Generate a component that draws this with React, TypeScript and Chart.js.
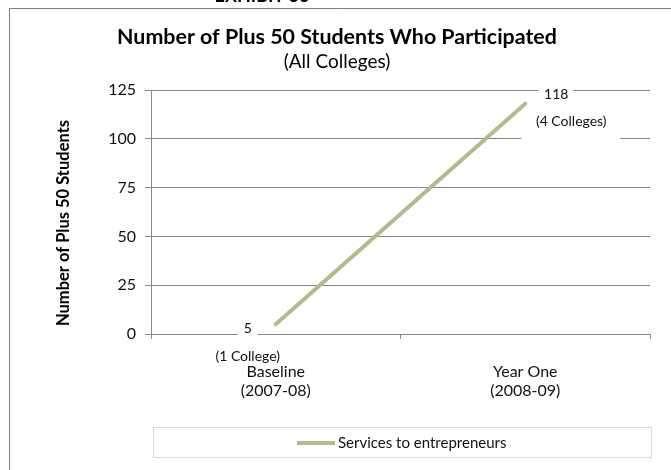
import React, { useEffect, useRef } from "react";
import { Chart, registerables } from "chart.js";

Chart.register(...registerables);

const categoryNames = ["Baseline", "Year One"];
const categoryYears = ["(2007-08)", "(2008-09)"];
const values = [5, 118];
const collegeLabels = ["(1 College)", "(4 Colleges)"];
const seriesName = "Services to entrepreneurs";
const yMax = 125;
const yStep = 25;
const titleText = "Number of Plus 50 Students Who Participated";
const subtitleText = "(All Colleges)";
const exhibitText = "EXHIBIT 33";
const yAxisTitle = "Number of Plus 50 Students";

const FONT = "Lato, 'Open Sans', sans-serif";
const LINE_COLOR = "#b3bb8c";
const AXIS_COLOR = "#868686";

export default function App() {
  const ref = useRef<HTMLCanvasElement | null>(null);

  useEffect(() => {
    const canvas = ref.current;
    if (!canvas) return;

    const overlay = {
      id: "overlay",
      beforeDatasetsDraw(chart: any) {
        const ctx = chart.ctx;
        const meta = chart.getDatasetMeta(0);
        const p0 = meta.data[0];
        const p1 = meta.data[1];
        ctx.save();
        ctx.fillStyle = "#ffffff";
        // label backgrounds
        ctx.fillRect(p0.x - 38, p0.y - 6, 20, 20);
        ctx.fillRect(p1.x + 13, p1.y - 19, 35, 18);
        ctx.fillRect(p1.x - 4, p1.y + 5, 99, 34);
        ctx.restore();
      },
      afterDatasetsDraw(chart: any) {
        const ctx = chart.ctx;
        const meta = chart.getDatasetMeta(0);
        const p0 = meta.data[0];
        const p1 = meta.data[1];
        ctx.save();
        ctx.fillStyle = "#111";
        ctx.textAlign = "center";
        ctx.textBaseline = "middle";
        ctx.font = `14px ${FONT}`;
        ctx.fillText(String(values[0]), p0.x - 28, p0.y + 4);
        ctx.fillText(collegeLabels[0], p0.x - 28, p0.y + 32);
        ctx.fillText(String(values[1]), p1.x + 31, p1.y - 9);
        ctx.fillText(collegeLabels[1], p1.x + 46, p1.y + 18);
        ctx.restore();
      },
      afterDraw(chart: any) {
        const ctx = chart.ctx;
        ctx.save();
        // outer border
        ctx.strokeStyle = "#7f7f7f";
        ctx.lineWidth = 1;
        ctx.beginPath();
        ctx.moveTo(9.5, 480);
        ctx.lineTo(9.5, 8.5);
        ctx.lineTo(680, 8.5);
        ctx.stroke();
        // exhibit text (clipped at top)
        ctx.fillStyle = "#000";
        ctx.textAlign = "center";
        ctx.textBaseline = "alphabetic";
        ctx.font = `bold 18px ${FONT}`;
        ctx.fillText(exhibitText, 262, 2);
        // titles
        ctx.font = `bold 21.4px ${FONT}`;
        ctx.textBaseline = "middle";
        ctx.fillText(titleText, 337, 37);
        ctx.font = `19px ${FONT}`;
        ctx.fillText(subtitleText, 337, 62);
        // y axis title
        ctx.save();
        ctx.translate(64, 223);
        ctx.rotate(-Math.PI / 2);
        ctx.font = `bold 16.5px ${FONT}`;
        ctx.fillText(yAxisTitle, 0, 0);
        ctx.restore();
        // legend
        const lx = 153.5, ly = 427.5, lw = 498, lh = 30;
        ctx.strokeStyle = "#d9d9d9";
        ctx.lineWidth = 1;
        ctx.strokeRect(lx, ly, lw, lh);
        ctx.strokeStyle = LINE_COLOR;
        ctx.lineWidth = 4;
        ctx.beginPath();
        ctx.moveTo(297, 443);
        ctx.lineTo(335, 443);
        ctx.stroke();
        ctx.textAlign = "left";
        ctx.font = `15px ${FONT}`;
        ctx.fillStyle = "#111";
        ctx.fillText(seriesName, 338, 443);
        ctx.restore();
      },
    };

    const chart = new Chart(canvas, {
      type: "line",
      data: {
        labels: categoryNames.map((n, i) => [n, categoryYears[i]]),
        datasets: [
          {
            label: seriesName,
            data: values,
            borderColor: LINE_COLOR,
            backgroundColor: LINE_COLOR,
            borderWidth: 4,
            borderCapStyle: "round",
            pointRadius: 0,
            tension: 0,
          },
        ],
      },
      options: {
        responsive: false,
        animation: false,
        layout: { padding: { left: 0, top: 90, right: 21, bottom: 46 } },
        plugins: {
          legend: { display: false },
          title: { display: false },
          tooltip: { enabled: false },
        },
        scales: {
          x: {
            offset: true,
            grid: {
              offset: true,
              drawOnChartArea: false,
              tickLength: 5,
              color: AXIS_COLOR,
            },
            border: { color: AXIS_COLOR, width: 1 },
            ticks: {
              color: "#111",
              padding: 24,
              maxRotation: 0,
              font: { family: FONT, size: 16, lineHeight: 1.15 },
            },
            afterFit: (s: any) => {
              s.height = 90;
            },
          },
          y: {
            min: 0,
            max: yMax,
            ticks: {
              stepSize: yStep,
              color: "#111",
              padding: 9,
              font: { family: FONT, size: 16 },
            },
            grid: { color: AXIS_COLOR, tickLength: 6, lineWidth: 1 },
            border: { color: AXIS_COLOR, width: 1 },
            afterFit: (s: any) => {
              s.width = 151;
            },
          },
        },
      },
      plugins: [overlay],
    });

    return () => chart.destroy();
  }, []);

  return (
    <div style={{ position: "absolute", left: 0, top: 0, width: 671, height: 470, background: "#fff" }}>
      <canvas ref={ref} width={671} height={470} style={{ display: "block" }} />
    </div>
  );
}
